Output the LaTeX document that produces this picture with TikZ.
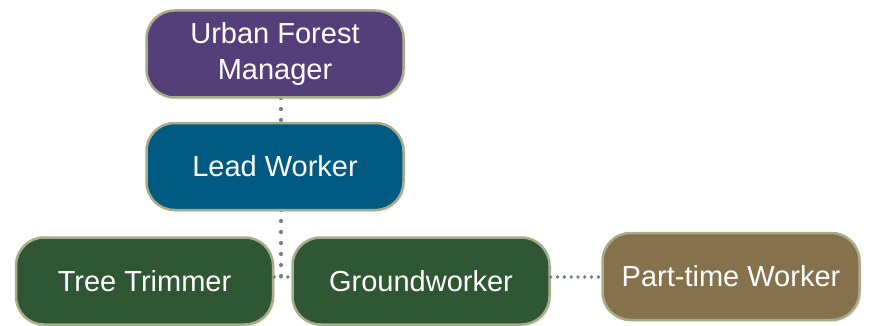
\documentclass[tikz,border=0pt]{standalone}
\usepackage{fontspec}
\setmainfont{Liberation Sans}
\usetikzlibrary{shadows,calc}
\definecolor{mgrc}{HTML}{553F7A}
\definecolor{leadc}{HTML}{005A82}
\definecolor{grnc}{HTML}{2F5734}
\definecolor{brnc}{HTML}{85724C}
\definecolor{edgec}{HTML}{A9AC8A}
\definecolor{dotc}{HTML}{76808C}
\tikzset{
  box/.style={rectangle, rounded corners=28pt, draw=edgec, line width=2.5pt,
    minimum width=257pt, minimum height=87pt, inner sep=0pt, text=white,
    align=center, font=\fontsize{29}{36}\selectfont,
    drop shadow={opacity=0.12, shadow xshift=2pt, shadow yshift=-2pt}},
  vdots/.style={draw=dotc, line width=4.2pt, line cap=round, dash pattern=on 0pt off 11pt},
  hdots/.style={draw=dotc, line width=3.8pt, line cap=round, dash pattern=on 0pt off 6.8pt}
}
\begin{document}
\begin{tikzpicture}[x=1pt,y=-1pt]
\useasboundingbox (0,0) rectangle (869,326);
\coordinate (j) at (281,277);
\draw[vdots] (281,98) -- (281,123);
\draw[vdots] (281,210) -- (j);
\node[box, fill=mgrc] (mgr) at (275,54) {Urban Forest\\Manager};
\node[box, fill=leadc] (lead) at (275,166.5) {Lead Worker};
\node[box, fill=grnc] (tt) at (144.5,281) {Tree Trimmer};
\node[box, fill=grnc] (gw) at (421,281) {Groundworker};
\node[box, fill=brnc] (pt) at (731,276.5) {Part-time Worker};
\draw[hdots] (tt.east |- j) -- (gw.west |- j);
\draw[hdots] (gw.east |- j) -- (pt.west |- j);
\end{tikzpicture}
\end{document}
